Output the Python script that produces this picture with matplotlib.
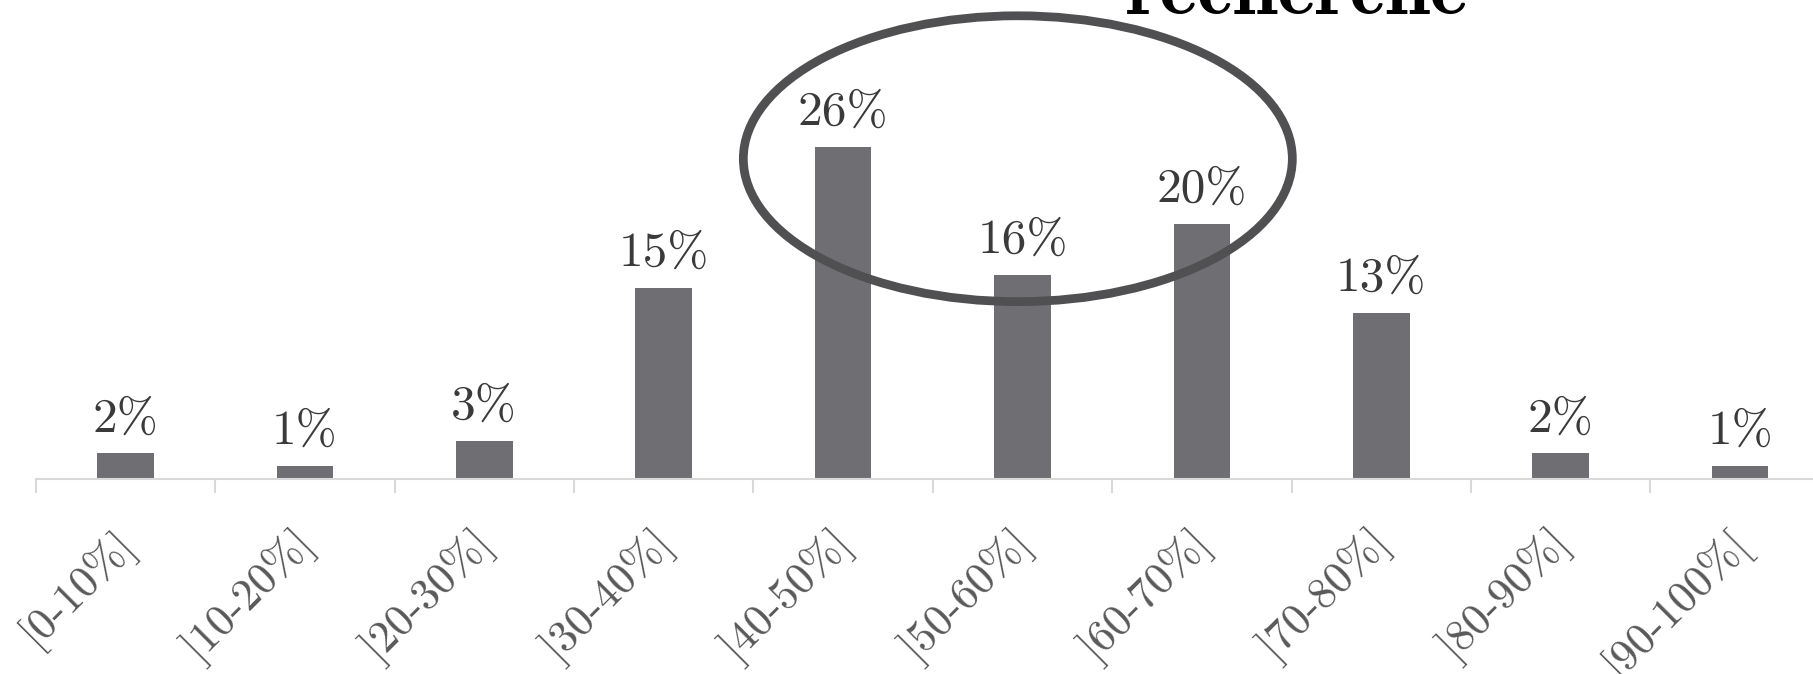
import numpy as np
import matplotlib.pyplot as plt
import matplotlib.transforms as mtransforms
from matplotlib.patches import Ellipse

# Share of items per score bracket
categories = ['[0-10%]', ']10-20%]', ']20-30%]', ']30-40%]', ']40-50%]',
              ']50-60%]', ']60-70%]', ']70-80%]', ']80-90%]', '[90-100%[']
values = [2, 1, 3, 15, 26, 16, 20, 13, 2, 1]

plt.rcParams['font.family'] = ['cmr10', 'DejaVu Serif']
plt.rcParams['axes.unicode_minus'] = False

fig = plt.figure(figsize=(18.13, 6.74), dpi=100)
ax = fig.add_axes([0.0197, 0.2893, 0.9896, 0.568])

x = np.arange(len(categories))
ax.bar(x, values, width=0.315, color='#6f6e73', zorder=2)

for xi, v in zip(x, values):
    ax.annotate(f'{v}%', (xi, v), xytext=(0, 16), textcoords='offset points',
                ha='center', va='baseline', fontsize=35.5, color='#3a3a3a')

ax.set_xlim(-0.5, len(categories) - 0.5)
ax.set_ylim(0, 30)
ax.set_yticks([])
for side in ['left', 'right', 'top']:
    ax.spines[side].set_visible(False)
ax.spines['bottom'].set_color('#d9d9d9')
ax.spines['bottom'].set_linewidth(1.5)

# category boundaries carry the tick marks, labels sit under the centres
ax.set_xticks(np.arange(len(categories) + 1) - 0.5, minor=True)
ax.tick_params(axis='x', which='minor', length=10, width=1.5, color='#d9d9d9')
ax.set_xticks(x)
ax.set_xticklabels(categories, rotation=45, ha='right', rotation_mode='anchor',
                   fontsize=32, color='#595959')
ax.tick_params(axis='x', which='major', length=0, pad=30)
shift = mtransforms.ScaledTranslation(-14 / 100, 0, fig.dpi_scale_trans)
for lbl in ax.get_xticklabels():
    lbl.set_transform(lbl.get_transform() + shift)

# highlight the central brackets
ring = Ellipse((4.974, 25.1), width=3.06, height=22.4, fill=False,
               edgecolor='#505052', linewidth=6.3, clip_on=False, zorder=3)
ax.add_patch(ring)

fig.text(1297 / 1813, 1 - 14 / 674, 'recherche', ha='center', va='baseline',
         fontsize=58, family=['cmb10', 'DejaVu Serif'], color='black')

fig.savefig('out.png', dpi=100)
